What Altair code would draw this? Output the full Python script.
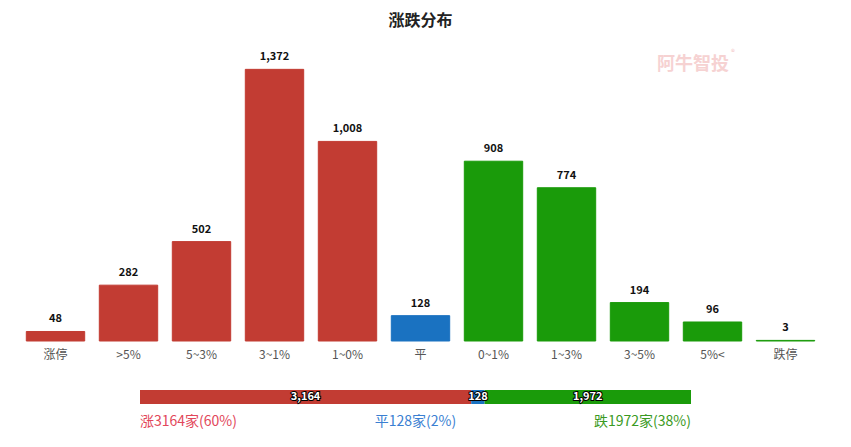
import altair as alt
import pandas as pd

categories = ["涨停", ">5%", "5~3%", "3~1%", "1~0%", "平", "0~1%", "1~3%", "3~5%", "5%<", "跌停"]
counts = [48, 282, 502, 1372, 1008, 128, 908, 774, 194, 96, 3]
groups = ["up", "up", "up", "up", "up", "flat", "down", "down", "down", "down", "down"]

sum_names = ["涨", "平", "跌"]
sum_keys = ["up", "flat", "down"]
sum_values = [3164, 128, 1972]
sum_pcts = [60, 2, 38]

bar_colors = {"up": "#c23c33", "flat": "#1a72c1", "down": "#1a9b0a"}
text_colors = {"up": "#e2475a", "flat": "#3a7fd2", "down": "#3a9a22"}

FONT = "Noto Sans CJK SC"

df = pd.DataFrame({"cat": categories, "count": counts, "grp": groups})
df["label"] = df["count"].map(lambda v: f"{v:,}")

color_scale = alt.Scale(domain=list(bar_colors.keys()), range=list(bar_colors.values()))

base = alt.Chart(df).encode(
    x=alt.X("cat:N", sort=categories, title=None,
            scale=alt.Scale(paddingInner=0.2, paddingOuter=0.1),
            axis=alt.Axis(labelAngle=0, ticks=False, domain=False, grid=False,
                          labelFont=FONT, labelFontSize=12, labelColor="#555555",
                          labelPadding=8)),
    y=alt.Y("count:Q", scale=alt.Scale(domain=[0, 1500], nice=False), axis=None, title=None),
)
bars = base.mark_bar(strokeWidth=1).encode(
    color=alt.Color("grp:N", scale=color_scale, legend=None),
    stroke=alt.Stroke("grp:N", scale=color_scale, legend=None),
)
vals = base.mark_text(dy=-12, fontSize=11, fontWeight="bold", font=FONT, color="#111111").encode(
    text="label:N")

wm = alt.Chart(pd.DataFrame({"t": ["阿牛智投"]})).mark_text(
    font=FONT, fontSize=18, fontWeight="bold", color="#f6d2d2", align="left", baseline="middle"
).encode(x=alt.value(638), y=alt.value(21), text="t:N")
wm_r = alt.Chart(pd.DataFrame({"t": ["®"]})).mark_text(
    font=FONT, fontSize=8, color="#f3c4c4", align="left", baseline="middle"
).encode(x=alt.value(712), y=alt.value(9), text="t:N")

top = alt.layer(bars, vals, wm, wm_r).properties(
    width=803, height=297,
    title=alt.TitleParams("涨跌分布", font=FONT, fontSize=16, fontWeight="bold",
                          color="#222222", anchor="middle", offset=15),
)

total = sum(sum_values)
sdf = pd.DataFrame({"name": sum_names, "grp": sum_keys, "v": sum_values, "pct": sum_pcts})
sdf["x0"] = sdf["v"].cumsum() - sdf["v"]
sdf["x1"] = sdf["v"].cumsum()
sdf["mid"] = (sdf["x0"] + sdf["x1"]) / 2
sdf["lab"] = sdf["v"].map(lambda v: f"{v:,}")
sdf["txt"] = [f"{n}{v}家({p}%)" for n, v, p in zip(sum_names, sum_values, sum_pcts)]
sdf["tx"] = [0, total / 2, total]

px_per = total / 551.0
xs = alt.Scale(domain=[-121 * px_per, total + 131 * px_per], nice=False, zero=False)

sbar = alt.Chart(sdf).mark_bar(height=14).encode(
    x=alt.X("x0:Q", scale=xs, axis=None),
    x2="x1:Q",
    color=alt.Color("grp:N", scale=color_scale, legend=None),
)
slab_o = alt.Chart(sdf).mark_text(fontSize=11, fontWeight="bold", font=FONT,
                                  color="black", stroke="black", strokeWidth=2).encode(
    x=alt.X("mid:Q", scale=xs), text="lab:N")
slab = alt.Chart(sdf).mark_text(fontSize=11, fontWeight="bold", font=FONT, color="white").encode(
    x=alt.X("mid:Q", scale=xs), text="lab:N")

stext_parts = []
for i, al in enumerate(["left", "center", "right"]):
    stext_parts.append(
        alt.Chart(sdf.iloc[[i]]).mark_text(fontSize=14, font=FONT, align=al, baseline="middle",
                                           color=text_colors[sum_keys[i]]).encode(
            x=alt.X("tx:Q", scale=xs), y=alt.value(32), text="txt:N")
    )

bottom = alt.layer(sbar, slab_o, slab, *stext_parts).properties(width=803, height=14)

chart = alt.vconcat(top, bottom, spacing=30).properties(
    padding={"left": 11, "top": 5, "right": 5, "bottom": 5}
).configure_view(stroke=None)

chart.save("out.html", embed_options={"renderer": "svg", "actions": False})
